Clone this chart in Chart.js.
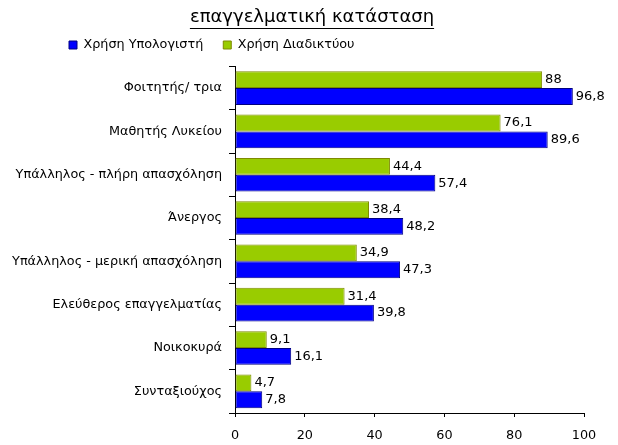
<!DOCTYPE html>
<html>
<head>
<meta charset="utf-8">
<script src="https://cdn.jsdelivr.net/npm/chart.js@4/dist/chart.umd.min.js"></script>
<style>
html,body{margin:0;padding:0;background:#fff;}
#wrap{position:relative;width:618px;height:445px;}
</style>
</head>
<body>
<div id="wrap"><canvas id="c" width="618" height="445"></canvas></div>
<script>
const titleText = 'επαγγελματική κατάσταση';
const categories = ['Φοιτητής/ τρια','Μαθητής Λυκείου','Υπάλληλος - πλήρη απασχόληση','Άνεργος','Υπάλληλος - μερική απασχόληση','Ελεύθερος επαγγελματίας','Νοικοκυρά','Συνταξιούχος'];
const internetUse = [88, 76.1, 44.4, 38.4, 34.9, 31.4, 9.1, 4.7];
const computerUse = [96.8, 89.6, 57.4, 48.2, 47.3, 39.8, 16.1, 7.8];
const xTicks = [0, 20, 40, 60, 80, 100];

const FONT = 'DejaVu Sans';
const TITLE_SIZE = 18;
const LABEL_SIZE = 12.8;

const fmt = v => String(v).replace('.', ',');

const placePlugin = {
  id: 'place',
  afterLayout(chart) {
    const lg = chart.legend;
    if (lg) {
      const w = lg.right - lg.left; lg.left = 49; lg.right = 49 + w;
      lg.top -= 5; lg.bottom -= 5;
    }
    const t = chart.titleBlock;
    if (t) {
      const w = t.right - t.left; const c = 312; t.left = c - w/2; t.right = c + w/2;
      t.top += 5; t.bottom += 5;
    }
  },
  afterDraw(chart) {
    const t = chart.titleBlock;
    const ctx = chart.ctx;
    ctx.save();
    ctx.font = TITLE_SIZE + 'px "' + FONT + '"';
    const w = ctx.measureText(titleText).width;
    const cx = (t.left + t.right) / 2;
    const y = Math.round(t.top + 2 + 21) + 0.5;
    ctx.strokeStyle = '#000';
    ctx.lineWidth = 1;
    ctx.beginPath();
    ctx.moveTo(cx - w/2, y);
    ctx.lineTo(cx + w/2, y);
    ctx.stroke();
    ctx.restore();
  }
};

const valuePlugin = {
  id: 'values',
  afterDatasetsDraw(chart) {
    const ctx = chart.ctx;
    ctx.save();
    ctx.font = '13px "' + FONT + '"';
    ctx.fillStyle = '#000';
    ctx.textBaseline = 'middle';
    ctx.textAlign = 'left';
    chart.data.datasets.forEach((ds, i) => {
      const meta = chart.getDatasetMeta(i);
      meta.data.forEach((el, j) => {
        ctx.fillText(fmt(ds.data[j]), el.x + 3, el.y);
      });
    });
    ctx.restore();
  }
};

new Chart(document.getElementById('c'), {
  type: 'bar',
  data: {
    labels: categories,
    datasets: [
      { label: 'Χρήση Διαδικτύου', data: internetUse, backgroundColor: '#99CC00', borderColor: '#7F8A00', borderWidth: 1, borderSkipped: false },
      { label: 'Χρήση Υπολογιστή', data: computerUse, backgroundColor: '#0000FF', borderColor: '#000080', borderWidth: 1, borderSkipped: false }
    ]
  },
  options: {
    indexAxis: 'y',
    responsive: false,
    animation: false,
    devicePixelRatio: 1,
    layout: { padding: { left: 0, right: 34, top: 0, bottom: 0 } },
    datasets: { bar: { categoryPercentage: 0.777, barPercentage: 1.0 } },
    scales: {
      x: {
        min: 0, max: 100,
        afterBuildTicks(scale) { scale.ticks = xTicks.map(v => ({ value: v })); },
        afterFit(scale) { scale.height = 32; },
        grid: { drawOnChartArea: false, tickLength: 4, color: '#000', tickColor: '#000' },
        border: { color: '#000', width: 1 },
        ticks: { color: '#000', font: { family: FONT, size: LABEL_SIZE }, padding: 11, maxRotation: 0 }
      },
      y: {
        afterFit(scale) { scale.width = 235; },
        grid: { drawOnChartArea: false, tickLength: 6, color: '#000', tickColor: '#000', offset: true },
        border: { color: '#000', width: 1 },
        ticks: { color: '#000', font: { family: FONT, size: LABEL_SIZE }, padding: 7, autoSkip: false }
      }
    },
    plugins: {
      title: { display: true, text: titleText, color: '#000', font: { family: FONT, size: TITLE_SIZE, weight: 'normal' }, padding: { top: 2, bottom: 0 } },
      legend: {
        display: true, position: 'top', align: 'start', reverse: true,
        labels: { color: '#000', font: { family: FONT, size: LABEL_SIZE }, boxWidth: 8, boxHeight: 8, padding: 20 }
      },
      tooltip: { enabled: false }
    }
  },
  plugins: [placePlugin, valuePlugin]
});
</script>
</body>
</html>
